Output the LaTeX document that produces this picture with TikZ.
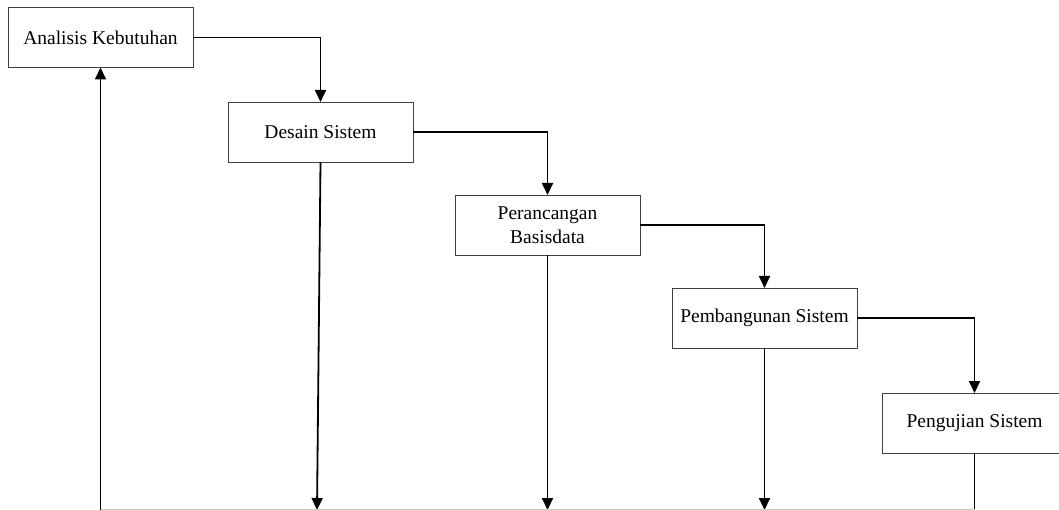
\documentclass[tikz,border=0pt]{standalone}
\usepackage{fontspec}
\setmainfont{Liberation Serif}
\usetikzlibrary{arrows.meta}
\begin{document}
\begin{tikzpicture}[x=1pt,y=-1pt,
  stagebox/.style={draw=black!75, line width=0.9pt, fill=white, rectangle,
    minimum width=185pt, minimum height=60pt, inner sep=0pt, outer sep=0pt,
    align=center, font=\fontsize{19.5}{24}\selectfont},
  flow/.style={draw=black, line width=1.8pt, -{Triangle[width=11pt,length=12pt]}},
  plain/.style={draw=black, line width=1.8pt}]
\useasboundingbox (0,0) rectangle (1059,510);
\clip (0,0) rectangle (1059,510);

% stages
\node[stagebox] (a) at (100.5,37.5) {Analisis Kebutuhan};
\node[stagebox] (b) at (320.5,132) {Desain Sistem};
\node[stagebox] (c) at (547.5,225) {Perancangan\\Basisdata};
\node[stagebox] (d) at (764.5,318) {Pembangunan Sistem};
\node[stagebox] (e) at (974.5,423) {Pengujian Sistem};

% feedback line along the bottom
\coordinate (ab) at (100.5,510);
\coordinate (bb) at (317,510);
\coordinate (eb) at (974.5,509.5);

% forward flow
\draw[flow] (a.east) -| (b.north);
\draw[flow] (b.east) -| (c.north);
\draw[flow] (c.east) -| (d.north);
\draw[flow] (d.east) -| (e.north);

% returns to the bottom line
\draw[flow] (b.south) -- (bb);
\draw[flow] (c.south) -- (c.south |- ab);
\draw[flow] (d.south) -- (d.south |- ab);
\draw[plain] (e.south) -- (e.south |- ab);
\draw[black!20, line width=1pt] (ab |- eb) -- (eb);
\draw[flow] (ab) -- (a.south);
\end{tikzpicture}
\end{document}
